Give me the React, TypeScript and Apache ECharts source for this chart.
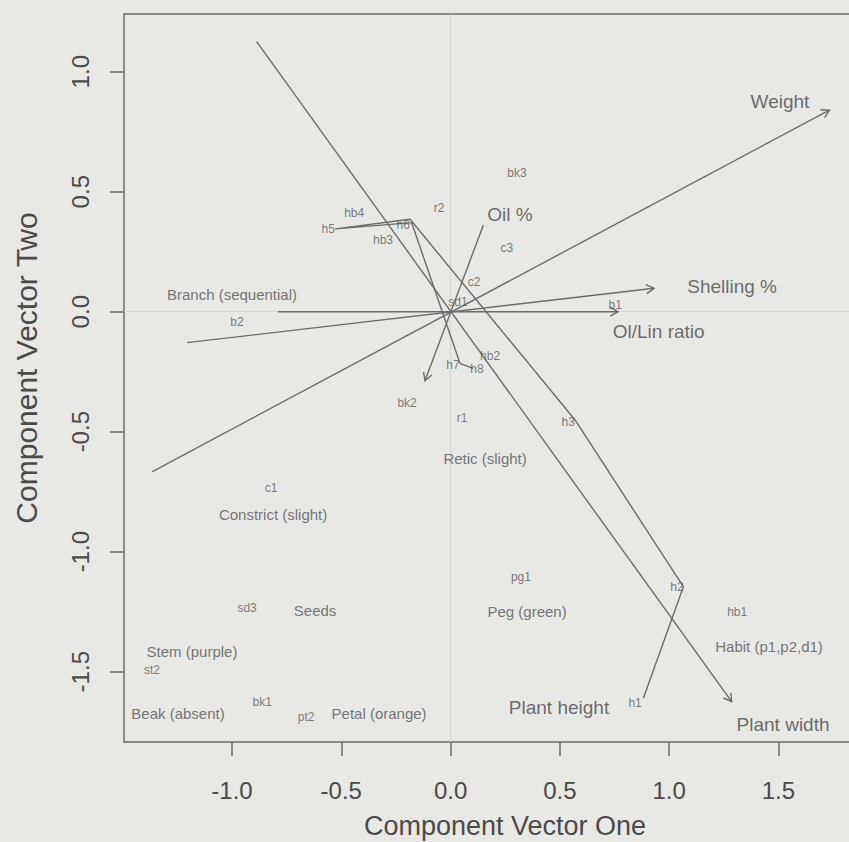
import { useEffect, useRef } from "react";
import * as echarts from "echarts";

// ---- axis ticks ----
const xTicks = [-1.0, -0.5, 0.0, 0.5, 1.0, 1.5];
const yTicks = [-1.5, -1.0, -0.5, 0.0, 0.5, 1.0];

// ---- variable arrows (start -> end, arrowhead at end) ----
const arrowNames = ["Plant width", "Weight", "Shelling %", "Ol/Lin ratio", "Oil %"];
const arrowX1 = [-0.887, -1.366, -1.205, -0.789, 0.15];
const arrowY1 = [1.125, -0.667, -0.129, 0.0, 0.361];
const arrowX2 = [1.286, 1.733, 0.931, 0.766, -0.117];
const arrowY2 = [-1.625, 0.84, 0.0975, 0.0, -0.2875];

// ---- ordinal trajectory for height levels h1..h8 ----
const hPathNames = ["h1", "h2", "h3", "h4", "h5", "h6", "h7", "h8"];
const hPathX = [0.882, 1.065, 0.5695, -0.185, -0.528, -0.178, 0.043, 0.103];
const hPathY = [-1.611, -1.146, -0.451, 0.385, 0.345, 0.371, -0.215, -0.236];

// ---- large labels (variables) ----
const largeLabels = ["Weight", "Oil %", "Shelling %", "Ol/Lin ratio", "Plant height", "Plant width"];
const largeX = [1.507, 0.272, 1.288, 0.952, 0.496, 1.521];
const largeY = [0.874, 0.403, 0.107, -0.083, -1.648, -1.718];

// ---- medium labels (categorical variables) ----
const mediumLabels = [
  "Branch (sequential)", "Retic (slight)", "Constrict (slight)", "Seeds", "Peg (green)",
  "Habit (p1,p2,d1)", "Stem (purple)", "Beak (absent)", "Petal (orange)",
];
const mediumX = [-1.0, 0.158, -0.812, -0.62, 0.35, 1.457, -1.183, -1.247, -0.327];
const mediumY = [0.07, -0.61, -0.843, -1.247, -1.251, -1.393, -1.414, -1.676, -1.676];

// ---- small labels (category levels) ----
const smallLabels = [
  "bk3", "r2", "c3", "c2", "sd1", "b1", "hb2", "h7", "h8", "hb4", "h5", "h6", "hb3",
  "b2", "bk2", "r1", "h3", "pg1", "h2", "hb1", "h1", "c1", "sd3", "st2", "bk1", "pt2",
];
const smallX = [
  0.304, -0.053, 0.258, 0.108, 0.034, 0.753, 0.181, 0.011, 0.121, -0.441, -0.56, -0.217, -0.309,
  -0.977, -0.199, 0.053, 0.538, 0.322, 1.036, 1.311, 0.844, -0.821, -0.931, -1.366, -0.862, -0.661,
];
const smallY = [
  0.578, 0.432, 0.265, 0.124, 0.04, 0.028, -0.185, -0.222, -0.239, 0.411, 0.345, 0.361, 0.299,
  -0.043, -0.38, -0.443, -0.46, -1.105, -1.147, -1.251, -1.63, -0.735, -1.235, -1.493, -1.627, -1.689,
];

const LINE = "#6c6c6c";
const BG = "#e8e8e5";
const FONT = "'Liberation Sans', Arial, Helvetica, sans-serif";

function labelSeries(names: string[], xs: number[], ys: number[], size: number, color: string) {
  return {
    type: "scatter",
    symbol: "circle",
    symbolSize: 1,
    itemStyle: { color: "rgba(0,0,0,0)" },
    silent: true,
    z: 5,
    data: names.map((n, i) => ({ name: n, value: [xs[i], ys[i]] })),
    label: {
      show: true,
      position: "inside",
      formatter: "{b}",
      fontSize: size,
      fontFamily: FONT,
      color,
    },
  };
}

export default function App() {
  const ref = useRef<HTMLDivElement>(null);
  useEffect(() => {
    const chart = echarts.init(ref.current!, null, { renderer: "svg" });
    const option: any = {
      animation: false,
      backgroundColor: BG,
      grid: {
        left: 124,
        top: 14,
        width: 762,
        height: 728,
        show: true,
        borderColor: LINE,
        borderWidth: 1.5,
        backgroundColor: "transparent",
        containLabel: false,
        outerBoundsMode: "none",
      },
      xAxis: {
        type: "value",
        min: -1.494,
        max: 1.992,
        axisLine: { show: false, onZero: false },
        splitLine: { show: false },
        axisTick: {
          show: true,
          inside: false,
          length: 14,
          customValues: xTicks,
          lineStyle: { color: LINE, width: 1.5 },
        },
        axisLabel: {
          customValues: xTicks,
          formatter: (v: number) => v.toFixed(1),
          fontSize: 24,
          fontFamily: FONT,
          color: "#4a4a4a",
          margin: 36,
        },
      },
      yAxis: {
        type: "value",
        min: -1.7929,
        max: 1.2404,
        axisLine: { show: false, onZero: false },
        splitLine: { show: false },
        axisTick: {
          show: true,
          inside: false,
          length: 14,
          customValues: yTicks,
          lineStyle: { color: LINE, width: 1.5 },
        },
        axisLabel: {
          customValues: yTicks,
          formatter: (v: number) => v.toFixed(1),
          rotate: 90,
          fontSize: 24,
          fontFamily: FONT,
          color: "#4a4a4a",
          margin: 32,
        },
      },
      graphic: [
        {
          type: "text",
          x: 505,
          y: 826,
          style: {
            text: "Component Vector One",
            fontSize: 27,
            fontFamily: FONT,
            fill: "#4a4a4a",
            align: "center",
            verticalAlign: "middle",
          },
        },
        {
          type: "text",
          x: 26,
          y: 368,
          rotation: Math.PI / 2,
          style: {
            text: "Component Vector Two",
            fontSize: 30,
            fontFamily: FONT,
            fill: "#4a4a4a",
            align: "center",
            verticalAlign: "middle",
          },
        },
      ],
      series: [
        {
          type: "line",
          name: "height levels",
          data: hPathNames.map((n, i) => ({ name: n, value: [hPathX[i], hPathY[i]] })),
          symbol: "none",
          silent: true,
          lineStyle: { color: LINE, width: 1.4 },
          z: 3,
          markLine: {
            silent: true,
            symbol: ["none", "none"],
            label: { show: false },
            lineStyle: { color: "#d6d6d3", width: 1, type: "solid" },
            data: [{ xAxis: 0 }, { yAxis: 0 }],
            z: 1,
          },
        },
        {
          type: "custom",
          name: "arrows",
          silent: true,
          z: 3,
          data: arrowNames.map((n, i) => ({
            name: n,
            value: [arrowX1[i], arrowY1[i], arrowX2[i], arrowY2[i]],
          })),
          renderItem: (params: any, api: any) => {
            const p1 = api.coord([api.value(0), api.value(1)]);
            const p2 = api.coord([api.value(2), api.value(3)]);
            const ang = Math.atan2(p2[1] - p1[1], p2[0] - p1[0]);
            const L = 9;
            const a = Math.PI / 6;
            const h1 = [p2[0] - L * Math.cos(ang - a), p2[1] - L * Math.sin(ang - a)];
            const h2 = [p2[0] - L * Math.cos(ang + a), p2[1] - L * Math.sin(ang + a)];
            const st = { stroke: LINE, lineWidth: 1.4, fill: "none" };
            return {
              type: "group",
              children: [
                { type: "line", shape: { x1: p1[0], y1: p1[1], x2: p2[0], y2: p2[1] }, style: st },
                { type: "polyline", shape: { points: [h1, p2, h2] }, style: st },
              ],
            };
          },
        },
        labelSeries(largeLabels, largeX, largeY, 19, "#4a4a4a"),
        labelSeries(mediumLabels, mediumX, mediumY, 15, "#555555"),
        labelSeries(smallLabels, smallX, smallY, 12, "#5c5c5c"),
      ],
    };
    chart.setOption(option);
    return () => chart.dispose();
  }, []);
  return (
    <div
      ref={ref}
      style={{ position: "absolute", left: 0, top: 0, width: 849, height: 842 }}
    />
  );
}
